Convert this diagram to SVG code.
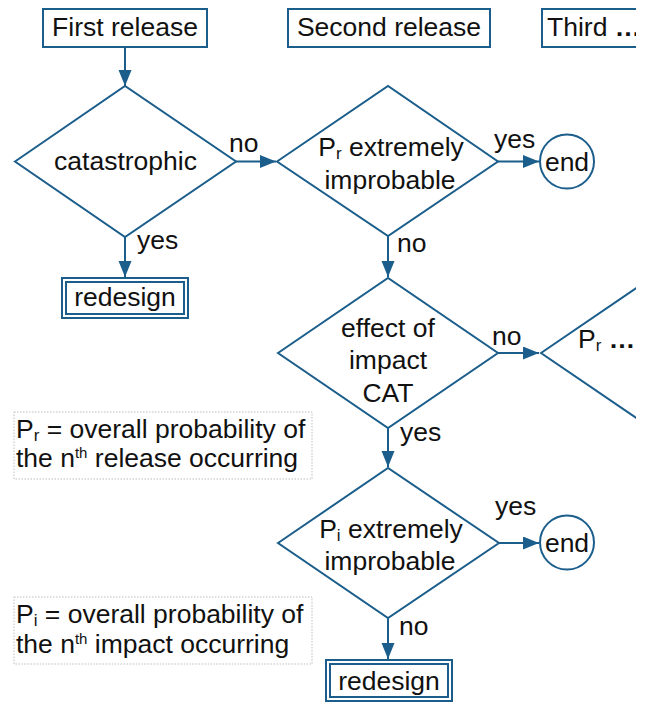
<svg xmlns="http://www.w3.org/2000/svg" width="649" height="702" viewBox="0 0 649 702">
<defs>
<style>
.s{fill:#fff;stroke:#1b5e8c;stroke-width:2}
.n{fill:none;stroke:#1b5e8c;stroke-width:2}
.c{fill:none;stroke:#1b5e8c;stroke-width:2;marker-end:url(#ah)}
.note{fill:#fff;stroke:#bdbdbd;stroke-width:1;stroke-dasharray:1.5 1.5}
text{font-family:"Liberation Sans",Arial,sans-serif;font-size:26.5px;fill:#111}
.m{text-anchor:middle}
.sub{font-size:17px}
.sup{font-size:15px}
.dots{font-weight:bold}
</style>
<marker id="ah" markerUnits="userSpaceOnUse" markerWidth="16" markerHeight="14" refX="16" refY="6.5" orient="auto">
<path d="M0,0 L16,6.5 L0,13 z" fill="#1b5e8c"/>
</marker>
<clipPath id="cr"><rect x="0" y="0" width="636" height="702"/></clipPath>
</defs>
<rect width="649" height="702" fill="#fff"/>

<g id="connectors">
<line class="c" x1="125" y1="47" x2="125" y2="86"/>
<line class="c" x1="236" y1="161.5" x2="276" y2="161.5"/>
<line class="c" x1="498" y1="161.5" x2="539" y2="161.5"/>
<line class="c" x1="125" y1="237" x2="125" y2="277"/>
<line class="c" x1="388" y1="236" x2="388" y2="277"/>
<line class="c" x1="498" y1="353" x2="539" y2="353"/>
<line class="c" x1="388" y1="428" x2="388" y2="467"/>
<line class="c" x1="499" y1="543" x2="539" y2="543"/>
<line class="c" x1="388" y1="618" x2="388" y2="659"/>
<text x="229" y="152">no</text>
<text x="494" y="148">yes</text>
<text x="137" y="249">yes</text>
<text x="397" y="252">no</text>
<text x="492" y="345">no</text>
<text x="400" y="441">yes</text>
<text x="495" y="515">yes</text>
<text x="399" y="635">no</text>
</g>

<g id="first-release">
<rect class="s" x="43" y="9" width="164" height="38"/>
<text class="m" x="125" y="36">First release</text>
</g>
<g id="second-release">
<rect class="s" x="288" y="9" width="202" height="38"/>
<text class="m" x="389" y="36">Second release</text>
</g>
<g id="third-release" clip-path="url(#cr)">
<rect class="s" x="542" y="9" width="120" height="38"/>
<text x="547" y="36">Third <tspan class="dots">…</tspan></text>
</g>

<g id="catastrophic">
<polygon class="s" points="15,161.5 125,86 236,161.5 125,237"/>
<text class="m" x="125.5" y="170">catastrophic</text>
</g>
<g id="pr-improbable">
<polygon class="s" points="277,161.5 388,86 498,161.5 388,236"/>
<text class="m" x="391" y="156">P<tspan class="sub" dy="3">r</tspan><tspan dy="-3"> extremely</tspan></text>
<text class="m" x="390" y="189">improbable</text>
</g>
<g id="end1">
<circle class="s" cx="567" cy="161.5" r="27"/>
<text class="m" x="567" y="170.5">end</text>
</g>
<g id="redesign1">
<rect class="s" x="62" y="278" width="126" height="40"/>
<rect class="n" x="66" y="282" width="118" height="32"/>
<text class="m" x="125" y="306">redesign</text>
</g>
<g id="effect-cat">
<polygon class="s" points="278,353 388,278 498,353 388,428"/>
<text class="m" x="388" y="337">effect of</text>
<text class="m" x="388" y="369">impact</text>
<text class="m" x="388" y="402">CAT</text>
</g>
<g id="pr-next" clip-path="url(#cr)">
<polygon class="s" points="541,353 651,278 761,353 651,428"/>
<text x="578" y="348">P<tspan class="sub" dy="3">r</tspan><tspan dy="-3"> </tspan><tspan class="dots">…</tspan></text>
</g>
<g id="pi-improbable">
<polygon class="s" points="278,543 388,468 499,543 388,618"/>
<text class="m" x="391" y="538">P<tspan class="sub" dy="3">i</tspan><tspan dy="-3"> extremely</tspan></text>
<text class="m" x="390" y="570">improbable</text>
</g>
<g id="end2">
<circle class="s" cx="567" cy="542.5" r="27"/>
<text class="m" x="567" y="551.5">end</text>
</g>
<g id="redesign2">
<rect class="s" x="326" y="660" width="126" height="41"/>
<rect class="n" x="330" y="664" width="118" height="33"/>
<text class="m" x="389" y="690">redesign</text>
</g>

<g id="note-pr">
<rect class="note" x="14" y="412" width="298" height="67"/>
<text x="16" y="438">P<tspan class="sub" dy="3">r</tspan><tspan dy="-3"> = overall probability of</tspan></text>
<text x="16" y="467">the n<tspan class="sup" dy="-9">th</tspan><tspan dy="9"> release occurring</tspan></text>
</g>
<g id="note-pi">
<rect class="note" x="14" y="597" width="298" height="67"/>
<text x="16" y="623">P<tspan class="sub" dy="3">i</tspan><tspan dy="-3"> = overall probability of</tspan></text>
<text x="16" y="653">the n<tspan class="sup" dy="-9">th</tspan><tspan dy="9"> impact occurring</tspan></text>
</g>
</svg>
